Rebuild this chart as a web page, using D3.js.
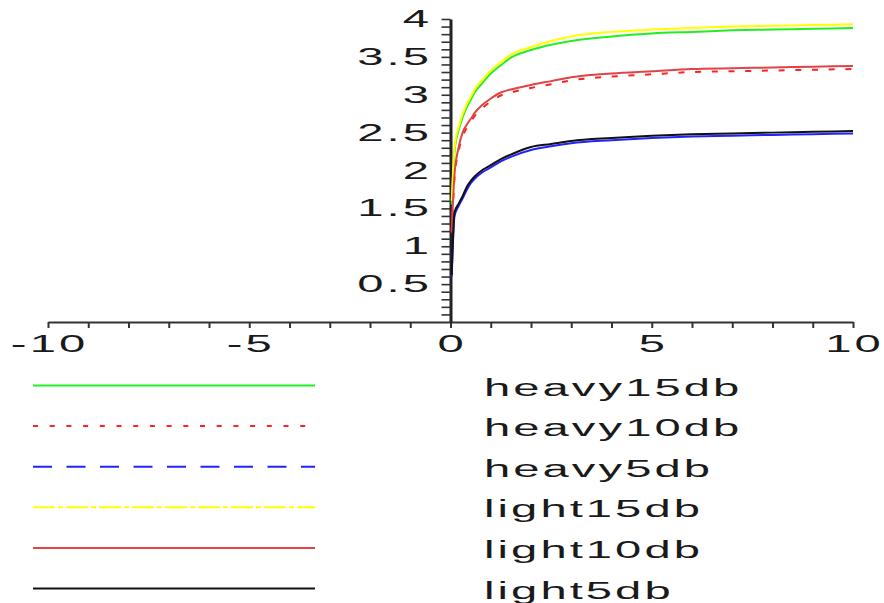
<!DOCTYPE html>
<html>
<head>
<meta charset="utf-8">
<script src="https://cdn.jsdelivr.net/npm/d3@7"></script>
<style>
  html, body { margin: 0; padding: 0; background: #fff; }
  svg { display: block; }
  text { font-family: "Liberation Sans", Arial, Helvetica, sans-serif; fill: #1a1a1a; }
</style>
</head>
<body>
<svg id="chart" width="884" height="603"></svg>
<script>
// ---- data ----
const xs = [0.03, 0.1, 0.2, 0.3, 0.4, 0.5, 0.6, 0.8, 1, 1.25, 1.5, 2, 2.5, 3, 4, 5, 6, 7, 8, 9, 10];
const heavy15db = [1.55, 2.25, 2.53, 2.70, 2.83, 2.93, 3.03, 3.16, 3.28, 3.39, 3.49, 3.59, 3.66, 3.71, 3.77, 3.81, 3.83, 3.85, 3.86, 3.87, 3.88];
const heavy10db = [1.18, 1.90, 2.25, 2.45, 2.56, 2.64, 2.72, 2.83, 2.91, 2.99, 3.03, 3.09, 3.14, 3.19, 3.24, 3.27, 3.30, 3.31, 3.32, 3.33, 3.34];
const heavy5db  = [0.60, 1.40, 1.53, 1.63, 1.74, 1.83, 1.89, 1.98, 2.04, 2.12, 2.18, 2.27, 2.32, 2.36, 2.40, 2.43, 2.45, 2.46, 2.47, 2.48, 2.49];
const light15db = [1.60, 2.30, 2.57, 2.74, 2.87, 2.97, 3.07, 3.20, 3.32, 3.43, 3.53, 3.63, 3.71, 3.77, 3.83, 3.86, 3.88, 3.90, 3.91, 3.92, 3.93];
const light10db = [1.20, 1.95, 2.30, 2.50, 2.60, 2.68, 2.76, 2.87, 2.95, 3.03, 3.07, 3.13, 3.18, 3.23, 3.28, 3.31, 3.34, 3.35, 3.36, 3.37, 3.38];
const light5db  = [0.62, 1.45, 1.56, 1.66, 1.78, 1.86, 1.92, 2.01, 2.07, 2.15, 2.21, 2.31, 2.35, 2.39, 2.43, 2.46, 2.48, 2.49, 2.50, 2.51, 2.52];

const seriesNames = ["heavy15db", "heavy10db", "heavy5db", "light15db", "light10db", "light5db"];
const seriesValues = [heavy15db, heavy10db, heavy5db, light15db, light10db, light5db];
const xTickLabels = [-10, -5, 0, 5, 10];
const yTickLabels = [0.5, 1, 1.5, 2, 2.5, 3, 3.5, 4];

// ---- styles ----
const colors = ["#22ee22", "#ff2222", "#2222ff", "#ffff00", "#e04444", "#111111"];
const legendDash = [null, "5,11.7", "19,14.5", "22,3,5,3", null, null];
const plotDash   = [null, "6,10.7", null, null, null, null];

const svg = d3.select("#chart");
const x = d3.scaleLinear().domain([-10, 10]).range([48, 853]);
const y = d3.scaleLinear().domain([0, 4]).range([322, 19]);
const SX = 2.05;     // horizontal stretch of the text
const LS = 1.5;      // letter spacing (local units)
const FS = 23;       // font size

// x axis
const xAxis = d3.axisBottom(x).tickValues(d3.range(-10, 11, 1)).tickSize(6).tickSizeOuter(0).tickFormat("");
const gx = svg.append("g").attr("transform", `translate(0,${y(0)})`).call(xAxis);
gx.select(".domain").attr("stroke", "#333").attr("stroke-width", 2);
gx.selectAll(".tick line").attr("stroke", "#333").attr("stroke-width", 2);

// y axis
const yAxis = d3.axisLeft(y).tickValues(d3.range(1, 41).map(i => i / 10)).tickSize(9).tickSizeOuter(0).tickFormat("");
const gy = svg.append("g").attr("transform", `translate(${x(0)},0)`).call(yAxis);
gy.select(".domain").attr("stroke", "#222").attr("stroke-width", 3);
gy.selectAll(".tick line").attr("stroke", "#333").attr("stroke-width", 1.6);

// tick labels (stretched text)
svg.append("g").selectAll("text").data(xTickLabels).join("text")
  .attr("transform", d => `translate(${x(d) + LS * SX / 2},352) scale(${SX},1)`)
  .attr("text-anchor", "middle")
  .attr("letter-spacing", LS)
  .attr("font-size", FS)
  .text(d => String(d));

svg.append("g").selectAll("text").data(yTickLabels).join("text")
  .attr("transform", d => `translate(${429 + LS * SX},${y(d) + 8}) scale(${SX},1)`)
  .attr("text-anchor", "end")
  .attr("letter-spacing", LS)
  .attr("font-size", FS)
  .text(d => String(d));

// curves
const line = d3.line().x(d => x(d[0])).y(d => y(d[1])).curve(d3.curveMonotoneX);
const plot = svg.append("g");
seriesValues.forEach((vals, i) => {
  plot.append("path")
    .datum(xs.map((xv, j) => [xv, vals[j]]))
    .attr("fill", "none")
    .attr("stroke", colors[i])
    .attr("stroke-width", 2)
    .attr("stroke-dasharray", plotDash[i])
    .attr("d", line);
});

// legend
const legY = d3.scaleLinear().domain([0, 5]).range([385.5, 588.5]);
const leg = svg.append("g");
seriesNames.forEach((name, i) => {
  leg.append("line")
    .attr("x1", 33).attr("x2", 315)
    .attr("y1", legY(i)).attr("y2", legY(i))
    .attr("stroke", colors[i])
    .attr("stroke-width", 2)
    .attr("stroke-dasharray", legendDash[i]);
  leg.append("text")
    .attr("transform", `translate(484,${legY(i) + 10}) scale(${SX},1)`)
    .attr("letter-spacing", LS)
    .attr("font-size", FS)
    .text(name);
});
</script>
</body>
</html>
